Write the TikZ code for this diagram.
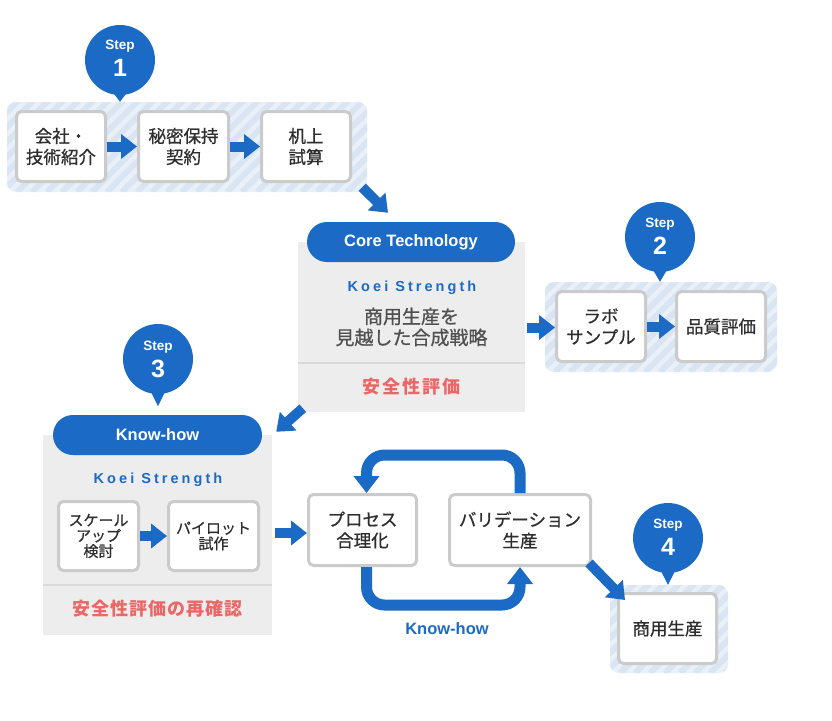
\documentclass[tikz,border=0pt]{standalone}
\usepackage{fontspec}
\setmainfont{Liberation Sans}
\newfontfamily\jp{Noto Sans CJK JP}[FakeBold=0.7]
\newfontfamily\jpb{Noto Sans CJK JP}
\usetikzlibrary{arrows.meta,calc}
\definecolor{kblue}{HTML}{1B6BC6}
\definecolor{grpbg}{HTML}{E9F0F8}
\definecolor{stripecol}{HTML}{DAE5F3}
\definecolor{boxgray}{HTML}{CBCBCB}
\definecolor{panelgray}{HTML}{EDEDED}
\definecolor{divgray}{HTML}{D9D9D9}
\definecolor{txtdark}{HTML}{2E2E2E}
\definecolor{txtgray}{HTML}{505050}
\definecolor{safered}{HTML}{EB6767}
\tikzset{
 grp/.style={rounded corners=9pt, fill=grpbg, inner sep=0pt,
   path picture={\foreach \i in {0,...,45}{\draw[stripecol, line width=6pt]
     ($(path picture bounding box.south west)+(\i*15pt-140pt,0pt)$) -- ++(220pt,220pt);}}},
 stepbox/.style={draw=boxgray, line width=3pt, fill=white, rounded corners=5pt, inner sep=0pt,
   align=center, text=txtdark, font=\jp\fontsize{17.5}{21}\selectfont},
 smallbox/.style={stepbox, font=\jp\fontsize{15}{15.5}\selectfont},
 bubble/.style={circle, fill=kblue, minimum size=70pt, inner sep=0pt},
 steplbl/.style={text=white, font=\bfseries\fontsize{13.5}{14}\selectfont, inner sep=0pt},
 stepnum/.style={text=white, font=\bfseries\fontsize{25}{25}\selectfont, inner sep=0pt},
 panel/.style={fill=panelgray, inner sep=0pt},
 pill/.style={fill=kblue, rounded corners=20pt, minimum height=40pt, inner sep=0pt,
   text=white, font=\bfseries\fontsize{16.5}{18}\selectfont},
 kstr/.style={text=kblue, inner sep=0pt, font=\bfseries\fontsize{14.5}{16}\selectfont\addfontfeatures{LetterSpace=21}},
 safe/.style={text=safered, inner sep=0pt, font=\jpb\bfseries\fontsize{18}{20}\selectfont},
 divider/.style={draw=divgray, line width=2pt},
 barrow/.style={draw=kblue, line width=10pt, -{Triangle[width=24pt,length=16pt]}},
 loopline/.style={draw=kblue, line width=11pt, rounded corners=18pt, -{Triangle[width=25pt,length=17pt]}},
}
\begin{document}
\begin{tikzpicture}[x=1pt,y=-1pt]
\useasboundingbox (0,0) rectangle (832,720);

% ---- groups (striped backgrounds)
\node[grp, minimum width=360pt, minimum height=90pt] (g1) at (187,147) {};
\node[grp, minimum width=232pt, minimum height=90pt] (g2) at (661,327) {};
\node[grp, minimum width=118pt, minimum height=88pt] (g4) at (669,629) {};

% ---- panels
\node[panel, minimum width=227pt, minimum height=170pt] (corepanel) at (411.5,327) {};
\node[panel, minimum width=229pt, minimum height=200pt] (kpanel) at (157.5,535) {};

% ---- bubbles
\node[bubble] (bub1) at (120,60) {};
\node[bubble] (bub2) at (660,237) {};
\node[bubble] (bub3) at (158,359) {};
\node[bubble] (bub4) at (668,538) {};
\fill[kblue] ($(bub1.south)+(-8,-4)$) -- ($(bub1.south)+(8,-4)$) -- (bub1.south |- g1.north) -- cycle;
\fill[kblue] ($(bub2.south)+(-8,-4)$) -- ($(bub2.south)+(8,-4)$) -- (bub2.south |- g2.north) -- cycle;
\fill[kblue] ($(bub3.south)+(-8,-4)$) -- ($(bub3.south)+(8,-4)$) -- ($(bub3.south)+(0,12)$) -- cycle;
\fill[kblue] ($(bub4.south)+(-8,-4)$) -- ($(bub4.south)+(8,-4)$) -- (bub4.south |- g4.north) -- cycle;
\node[steplbl] (s1) at ($(bub1)+(0,-14)$) {Step};
\node[stepnum] (n1) at ($(bub1)+(0,8)$) {1};
\node[steplbl] (s2) at ($(bub2)+(0,-13)$) {Step};
\node[stepnum] (n2) at ($(bub2)+(0,9)$) {2};
\node[steplbl] (s3) at ($(bub3)+(0,-12)$) {Step};
\node[stepnum] (n3) at ($(bub3)+(0,10)$) {3};
\node[steplbl] (s4) at ($(bub4)+(0,-13)$) {Step};
\node[stepnum] (n4) at ($(bub4)+(0,9)$) {4};

% ---- panel contents
\node[pill, minimum width=208pt] (corepill) at (411,242) {Core Technology};
\node[kstr] (ks1) at (412,288) {Koei Strength};
\node[inner sep=0pt, align=center, text=txtgray, font=\jp\fontsize{19}{21}\selectfont] (coretxt) at (411.5,327) {商用生産を\\見越した合成戦略};
\draw[divider] (corepanel.west |- 0,363) -- (corepanel.east |- 0,363);
\node[safe] (coresafe) at (411.5,387) {安\kern2pt 全\kern2pt 性\kern2pt 評\kern2pt 価};

\node[pill, minimum width=209pt] (kpill) at (157.5,435) {Know-how};
\node[kstr] (ks2) at (158,480) {Koei Strength};
\draw[divider] (kpanel.west |- 0,585) -- (kpanel.east |- 0,585);
\node[safe] (ksafe) at (157.5,609) {安\kern1pt 全\kern1pt 性\kern1pt 評\kern1pt 価\kern1pt の\kern1pt 再\kern1pt 確\kern1pt 認};

% ---- boxes
\node[stepbox, minimum width=89pt, minimum height=70pt] (b11) at (61,146.5) {会社・\\技術紹介};
\node[stepbox, minimum width=90pt, minimum height=70pt] (b12) at (183.5,146.5) {秘密保持\\契約};
\node[stepbox, minimum width=89pt, minimum height=70pt] (b13) at (306,146.5) {机上\\試算};
\node[stepbox, minimum width=89pt, minimum height=70pt] (lab) at (601,326.5) {ラボ\\サンプル};
\node[stepbox, minimum width=89pt, minimum height=70pt] (qual) at (721,326.5) {品質評価};
\node[smallbox, minimum width=80pt, minimum height=69pt] (scale) at (98.5,536) {スケール\\アップ\\検討};
\node[smallbox, minimum width=90pt, minimum height=69pt] (pilot) at (213.5,536) {パイロット\\試作};
\node[stepbox, minimum width=108pt, minimum height=71pt] (proc) at (362.5,530) {プロセス\\合理化};
\node[stepbox, minimum width=141pt, minimum height=71pt] (var) at (520,530) {バリデーション\\生産};
\node[stepbox, minimum width=98pt, minimum height=70pt] (b4) at (667.5,628.5) {商用生産};

% ---- arrows
\draw[barrow] (b11.east) -- (b12.west);
\draw[barrow] (b12.east) -- (b13.west);
\draw[barrow] (lab.east) -- (qual.west);
\draw[barrow] (scale.east) -- (pilot.west);
\draw[barrow] ($(corepanel.east |- lab.west)+(2,1)$) -- ($(lab.west)+(0,1)$);
\draw[barrow] ($(kpanel.east |- proc.west)+(3,3)$) -- ($(proc.west)+(0,3)$);
\draw[barrow] ($(g1.south east)+(-5,-5)$) -- ($(corepill.north)+(-23,-9)$);
\draw[barrow] ($(corepanel.south west)+(5,-4)$) -- ($(kpanel.north east)+(4,-3)$);
\draw[barrow] ($(var.south east)+(-3,-4)$) -- ($(b4.north west)+(8,8)$);

% ---- loop
\draw[loopline] (var.north) -- ++(0,-38) -| ($(proc.north)+(4,0)$);
\draw[loopline] ($(proc.south)+(4,0)$) -- ++(0,38) -| (var.south);
\node[text=kblue, inner sep=0pt, font=\bfseries\fontsize{16.5}{18}\selectfont] (klbl) at (447,629) {Know-how};
\end{tikzpicture}
\end{document}
